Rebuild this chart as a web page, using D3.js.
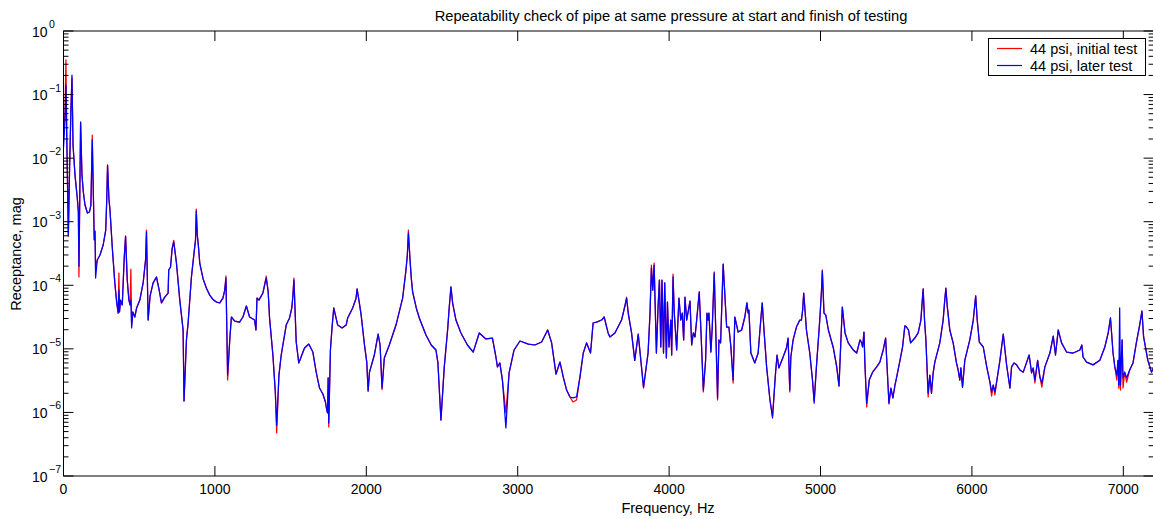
<!DOCTYPE html>
<html>
<head>
<meta charset="utf-8">
<script src="https://cdnjs.cloudflare.com/ajax/libs/d3/7.8.5/d3.min.js"></script>
<style>
  body { margin: 0; background: #fff; }
  svg { display: block; font-family: "Liberation Sans", Arial, Helvetica, sans-serif; }
</style>
</head>
<body>
<div id="container"></div>
<script>
// frequency points, Hz (shared by both tests)
var freq = [
    0, 10, 16, 23, 32, 40, 49, 56, 63, 76,
    91, 98, 102, 113, 122, 131, 142, 158, 171, 181,
    190, 198, 203, 208, 212, 223, 241, 262, 279, 285, 291, 300,
    307, 322, 339, 351, 361, 366, 370, 377, 388, 401,
    410, 421, 432, 440, 445, 450, 458, 471, 483, 504,
    526, 542, 548, 559, 572, 592, 614, 632, 647, 669,
    691, 695, 707, 717, 728, 746, 768, 790, 796, 812,
    823, 845, 862, 872, 877, 884, 890, 900, 922, 944, 966, 987,
    1010, 1032, 1053, 1065, 1073, 1084, 1098, 1109, 1131, 1163,
    1185, 1208, 1229, 1262, 1271, 1278, 1291, 1317, 1339, 1352, 1361,
    1383, 1399, 1408, 1423, 1438, 1471, 1493, 1508, 1515, 1522,
    1537, 1554, 1592, 1620, 1647, 1669, 1691, 1713, 1730, 1739,
    1744, 1748, 1752, 1763, 1775, 1785, 1811, 1840, 1867, 1877,
    1910, 1932, 1939, 1953, 1966, 1988, 2003, 2012, 2021, 2053, 2078, 2091,
    2104, 2119, 2152, 2196, 2240, 2262, 2271, 2278, 2288, 2297, 2306, 2330, 2350, 2394,
    2429, 2460, 2473, 2493, 2515, 2537, 2548, 2559, 2570, 2592, 2625, 2668,
    2706, 2746, 2790, 2833, 2856, 2866, 2882, 2899, 2922, 2943,
    2976, 3015, 3070, 3114, 3158, 3198, 3224, 3253, 3279, 3301,
    3323, 3345, 3365, 3389, 3411, 3433, 3455, 3481, 3498, 3521,
    3554, 3571, 3597, 3609, 3642, 3686, 3708, 3719, 3730, 3752, 3773, 3796,
    3831, 3861, 3874, 3883, 3892, 3901, 3916, 3927, 3936, 3945,
    3953, 3963, 3971, 3982, 3989, 3999, 4011, 4017, 4026, 4034,
    4050, 4065, 4077, 4087, 4096, 4105, 4116, 4138, 4149, 4160,
    4171, 4182, 4199, 4210, 4226, 4241, 4250, 4258, 4263, 4276,
    4285, 4298, 4320, 4329, 4340, 4357, 4380, 4395, 4408, 4423,
    4434, 4456, 4479, 4500, 4514, 4522, 4527, 4540, 4566, 4588, 4600,
    4615, 4628, 4644, 4666, 4683, 4703, 4713, 4725, 4753, 4775, 4786,
    4797, 4804, 4819, 4841, 4863, 4874, 4882, 4889, 4899, 4907, 4929, 4947,
    4958, 4973, 4995, 5006, 5012, 5023, 5035, 5052, 5085, 5107, 5122,
    5144, 5162, 5183, 5216, 5239, 5261, 5272, 5278, 5287, 5293,
    5305, 5322, 5344, 5371, 5392, 5414, 5430, 5452, 5465, 5478,
    5492, 5503, 5525, 5542, 5557, 5568, 5581, 5595, 5623, 5645,
    5663, 5671, 5678, 5687, 5696, 5711, 5722, 5733, 5744, 5755, 5788, 5810,
    5821, 5828, 5837, 5854, 5876, 5898, 5909, 5920, 5927, 5938, 5953, 5986,
    6009, 6018, 6025, 6035, 6049, 6075, 6098, 6119, 6130, 6141, 6152, 6163, 6185,
    6207, 6229, 6251, 6262, 6278, 6295, 6317, 6339, 6378, 6394,
    6405, 6416, 6434, 6449, 6462, 6482, 6515, 6537, 6552, 6570,
    6592, 6625, 6669, 6713, 6726, 6734, 6757, 6800, 6845, 6878, 6900,
    6915, 6924, 6932, 6944, 6957, 6965, 6970, 6976, 6981, 6992, 6998,
    7009, 7022, 7042, 7064, 7086, 7108, 7123, 7134, 7162, 7186,
    7200
];

// receptance magnitude, 44 psi initial test (red)
var initialTest = [
    2.07e-2, 5.7e-2, 3.5e-1, 1.34e-2, 5.9e-4, 6.5e-3, 5.7e-2, 1.82e-1, 1.6e-2, 5.4e-3,
    2.36e-3, 1.47e-3, 1.35e-4, 3.7e-2, 5.4e-3, 2.93e-3, 1.83e-3, 1.37e-3, 1.42e-3, 1.83e-3,
    2.31e-2, 2.2e-3, 5.2e-4, 7.1e-4, 1.94e-4, 2.5e-4, 3.0e-4, 4.3e-4, 7.4e-4, 2.0e-3, 7.8e-3, 2.3e-3,
    1.53e-3, 4.0e-4, 1.09e-4, 5.45e-5, 3.66e-5, 1.56e-4, 3.8e-5, 5.85e-5, 4.9e-5, 2.69e-4,
    5.96e-4, 1.21e-4, 5.85e-5, 4.9e-5, 1.8e-4, 2.35e-5, 3.8e-5, 3.17e-5, 4.4e-5, 5.85e-5,
    1.09e-4, 2.5e-4, 7.4e-4, 2.84e-5, 6.8e-5, 1.09e-4, 1.35e-4, 8.4e-5, 5.3e-5, 6.5e-5,
    7.55e-5, 1.74e-4, 1.94e-4, 3.7e-4, 5.1e-4, 2.24e-4, 5.85e-5, 1.98e-5, 1.51e-6, 1.38e-5,
    2.55e-5, 1.35e-4, 3.2e-4, 5.17e-4, 1.58e-3, 5.96e-4, 4.45e-4, 2.24e-4, 1.26e-4, 9.0e-5, 7.0e-5, 6.0e-5,
    5.45e-5, 5.3e-5, 6.3e-5, 8.4e-5, 1.4e-4, 3.23e-6, 1.38e-5, 3.17e-5, 2.74e-5, 2.64e-5,
    3.17e-5, 4.72e-5, 3.17e-5, 2.84e-5, 1.98e-5, 6.3e-5, 5.85e-5, 7.55e-5, 1.4e-4, 7.9e-5, 3.06e-5,
    8.0e-6, 2.1e-6, 4.75e-7, 3.87e-6, 8.0e-6, 2.37e-5, 3.06e-5, 4.4e-5, 6.8e-5, 1.3e-4,
    1.28e-5, 6.0e-6, 1.03e-5, 1.19e-5, 8.9e-6, 4.3e-6, 2.42e-6, 1.95e-6, 1.46e-6, 1.09e-6,
    9.8e-7, 3.5e-6, 5.9e-7, 9.6e-6, 2.37e-5, 4.4e-5, 2.37e-5, 2.13e-5, 2.37e-5, 3.06e-5,
    4.4e-5, 6.2e-5, 8.75e-5, 5.5e-5, 3.4e-5, 1.15e-5, 6.2e-6, 2.17e-6, 4.3e-6, 8.0e-6, 1.71e-5, 1.15e-5,
    2.3e-6, 7.2e-6, 1.15e-5, 2.37e-5, 6.3e-5, 1.74e-4, 3.0e-4, 7.4e-4, 2.69e-4, 1.3e-4, 7.85e-5, 4.4e-5, 3.06e-5, 1.65e-5,
    1.15e-5, 9.6e-6, 6.0e-6, 7.6e-7, 5.2e-6, 1.98e-5, 4.55e-5, 9.4e-5, 5.3e-5, 2.84e-5, 1.78e-5, 1.15e-5,
    8.9e-6, 1.78e-5, 1.43e-5, 1.48e-5, 7.45e-6, 5.2e-6, 6.0e-6, 3.23e-6, 9.8e-7, 4.2e-6,
    9.6e-6, 1.33e-5, 1.19e-5, 1.15e-5, 1.28e-5, 1.98e-5, 1.24e-5, 4.0e-6, 6.2e-6, 3.6e-6,
    2.25e-6, 1.75e-6, 1.46e-6, 1.57e-6, 3.6e-6, 8.6e-6, 1.24e-5, 8.6e-6, 2.55e-5, 2.64e-5,
    2.84e-5, 3.17e-5, 1.78e-5, 1.54e-5, 1.78e-5, 2.84e-5, 4.72e-5, 6.5e-5, 3.66e-5, 1.78e-5, 6.6e-6, 1.71e-5,
    2.42e-6, 8.6e-6, 3.66e-5, 2.08e-4, 8.4e-5, 2.24e-4, 8.6e-6, 4.55e-5, 1.21e-4, 1.07e-5,
    1.21e-4, 8.6e-6, 1.09e-4, 7.2e-6, 5.45e-5, 1.07e-5, 2.84e-5, 8.0e-6, 1.5e-4, 3.66e-5,
    9.6e-6, 6.3e-5, 2.84e-5, 3.66e-5, 1.38e-5, 6.5e-5, 2.84e-5, 5.65e-5, 1.15e-5, 1.78e-5,
    1.54e-5, 2.84e-5, 7.85e-5, 1.98e-5, 2.1e-6, 6.6e-6, 3.66e-5, 2.84e-5, 3.66e-5, 8.9e-6,
    2.2e-5, 1.62e-4, 1.57e-6, 1.38e-5, 1.24e-5, 2.16e-4, 2.2e-5, 2.2e-5, 1.07e-5, 2.9e-6,
    3.17e-5, 1.84e-5, 1.98e-5, 3.17e-5, 5.3e-5, 3.66e-5, 4.08e-5, 8.6e-6, 6.0e-6, 8.6e-6, 1.98e-5,
    5.3e-5, 1.78e-5, 5.2e-6, 1.57e-6, 8.8e-7, 4.2e-6, 8.0e-6, 5.0e-6, 7.45e-6, 1.03e-5, 1.48e-5,
    2.1e-6, 7.45e-6, 1.38e-5, 2.2e-5, 2.84e-5, 2.84e-5, 4.08e-5, 7.55e-5, 3.66e-5, 1.98e-5, 8.6e-6, 3.23e-6,
    1.51e-6, 5.2e-6, 2.84e-5, 7.85e-5, 1.74e-4, 3.66e-5, 3.4e-5, 1.98e-5, 1.03e-5, 5.2e-6, 2.6e-6,
    4.55e-5, 1.78e-5, 1.24e-5, 9.6e-6, 8.6e-6, 1.38e-5, 1.24e-5, 1.07e-5, 1.84e-5, 6.0e-6,
    1.22e-6, 3.23e-6, 4.3e-6, 5.2e-6, 6.2e-6, 9.6e-6, 1.48e-5, 1.36e-6, 2.42e-6, 1.69e-6,
    2.7e-6, 3.6e-6, 6.6e-6, 1.07e-5, 2.3e-5, 2.2e-5, 1.98e-5, 1.24e-5, 1.48e-5, 1.78e-5,
    2.84e-5, 5.3e-5, 8.75e-5, 2.84e-5, 1.38e-5, 1.75e-6, 3.87e-6, 2.0e-6, 4.2e-6, 6.2e-6, 1.24e-5, 2.84e-5,
    6.0e-5, 9.0e-5, 4.7e-5, 1.98e-5, 1.24e-5, 6.0e-6, 4.65e-6, 3.23e-6, 5.0e-6, 2.5e-6, 6.6e-6, 1.38e-5,
    2.84e-5, 4.7e-5, 6.8e-5, 2.84e-5, 1.28e-5, 1.07e-5, 5.2e-6, 3.0e-6, 1.81e-6, 2.7e-6, 1.88e-6, 3.0e-6, 6.6e-6,
    1.71e-5, 5.6e-6, 2.42e-6, 5.2e-6, 6.0e-6, 5.6e-6, 4.65e-6, 4.3e-6, 8.0e-6, 4.2e-6,
    5.0e-6, 2.9e-6, 6.6e-6, 3.6e-6, 2.5e-6, 5.2e-6, 8.6e-6, 1.59e-5, 8.0e-6, 1.98e-5,
    1.24e-5, 8.9e-6, 8.6e-6, 9.6e-6, 1.15e-5, 7.45e-6, 6.2e-6, 5.6e-6, 6.6e-6, 1.07e-5, 1.78e-5,
    3.06e-5, 1.59e-5, 8.6e-6, 5.2e-6, 3.23e-6, 6.6e-6, 2.42e-6, 9.0e-6, 2.25e-6, 1.38e-5, 2.42e-6,
    4.3e-6, 3.0e-6, 4.65e-6, 6.0e-6, 1.24e-5, 2.37e-5, 3.94e-5, 1.54e-5, 6.6e-6, 4.3e-6,
    5.0e-6
];

// receptance magnitude, 44 psi later test (blue)
var laterTest = [
    1.44e-2, 3.97e-2, 1.42e-1, 1.34e-2, 6.2e-4, 6.5e-3, 5.7e-2, 2.03e-1, 1.6e-2, 5.4e-3,
    2.36e-3, 1.47e-3, 2.0e-4, 3.7e-2, 5.4e-3, 2.93e-3, 1.83e-3, 1.37e-3, 1.42e-3, 1.83e-3,
    1.93e-2, 2.2e-3, 5.2e-4, 7.1e-4, 1.3e-4, 2.5e-4, 3.0e-4, 4.3e-4, 7.4e-4, 2.0e-3, 7.8e-3, 2.3e-3,
    1.53e-3, 4.0e-4, 1.09e-4, 5.45e-5, 3.66e-5, 8.4e-5, 3.8e-5, 5.85e-5, 4.9e-5, 2.69e-4,
    5.96e-4, 1.21e-4, 5.85e-5, 4.9e-5, 5.85e-5, 2.13e-5, 3.8e-5, 3.17e-5, 4.4e-5, 5.85e-5,
    1.09e-4, 2.5e-4, 6.9e-4, 2.84e-5, 6.8e-5, 1.09e-4, 1.35e-4, 8.4e-5, 5.3e-5, 6.5e-5,
    7.55e-5, 1.74e-4, 1.94e-4, 3.7e-4, 4.8e-4, 2.24e-4, 5.85e-5, 1.98e-5, 1.51e-6, 1.38e-5,
    2.55e-5, 1.35e-4, 3.2e-4, 5.17e-4, 1.47e-3, 5.96e-4, 4.45e-4, 2.24e-4, 1.26e-4, 9.0e-5, 7.0e-5, 6.0e-5,
    5.45e-5, 5.3e-5, 6.3e-5, 8.4e-5, 1.3e-4, 3.87e-6, 1.38e-5, 3.17e-5, 2.74e-5, 2.64e-5,
    3.17e-5, 4.72e-5, 3.17e-5, 2.84e-5, 1.98e-5, 6.3e-5, 5.85e-5, 7.55e-5, 1.3e-4, 7.9e-5, 3.06e-5,
    8.0e-6, 2.1e-6, 6.3e-7, 3.87e-6, 8.0e-6, 2.37e-5, 3.06e-5, 4.4e-5, 6.8e-5, 1.21e-4,
    1.28e-5, 6.0e-6, 1.03e-5, 1.19e-5, 8.9e-6, 4.3e-6, 2.42e-6, 1.95e-6, 1.46e-6, 1.09e-6,
    9.8e-7, 3.5e-6, 6.8e-7, 9.6e-6, 2.37e-5, 4.4e-5, 2.37e-5, 2.13e-5, 2.37e-5, 3.06e-5,
    4.4e-5, 6.2e-5, 8.75e-5, 5.5e-5, 3.4e-5, 1.15e-5, 6.2e-6, 2.17e-6, 4.3e-6, 8.0e-6, 1.71e-5, 1.15e-5,
    2.42e-6, 7.2e-6, 1.15e-5, 2.37e-5, 6.3e-5, 1.74e-4, 3.0e-4, 6.6e-4, 2.69e-4, 1.3e-4, 7.85e-5, 4.4e-5, 3.06e-5, 1.65e-5,
    1.15e-5, 9.6e-6, 6.0e-6, 7.6e-7, 5.2e-6, 1.98e-5, 4.55e-5, 9.4e-5, 5.3e-5, 2.84e-5, 1.78e-5, 1.15e-5,
    8.9e-6, 1.78e-5, 1.43e-5, 1.48e-5, 7.45e-6, 5.2e-6, 6.0e-6, 3.23e-6, 5.7e-7, 4.2e-6,
    9.6e-6, 1.33e-5, 1.19e-5, 1.15e-5, 1.28e-5, 1.98e-5, 1.24e-5, 4.0e-6, 6.2e-6, 3.6e-6,
    2.25e-6, 1.75e-6, 1.69e-6, 1.75e-6, 3.6e-6, 8.6e-6, 1.24e-5, 8.6e-6, 2.55e-5, 2.64e-5,
    2.84e-5, 3.17e-5, 1.78e-5, 1.54e-5, 1.78e-5, 2.84e-5, 4.72e-5, 6.3e-5, 3.66e-5, 1.78e-5, 6.6e-6, 1.71e-5,
    2.5e-6, 8.6e-6, 3.66e-5, 1.87e-4, 8.4e-5, 2.08e-4, 8.6e-6, 4.55e-5, 1.21e-4, 1.07e-5,
    1.21e-4, 8.6e-6, 1.09e-4, 7.2e-6, 5.45e-5, 1.07e-5, 2.84e-5, 8.0e-6, 1.35e-4, 3.66e-5,
    9.6e-6, 6.3e-5, 2.84e-5, 3.66e-5, 1.38e-5, 6.5e-5, 2.84e-5, 5.65e-5, 1.15e-5, 1.78e-5,
    1.54e-5, 2.84e-5, 7.85e-5, 1.98e-5, 2.25e-6, 6.6e-6, 3.66e-5, 2.84e-5, 3.66e-5, 8.9e-6,
    2.2e-5, 1.56e-4, 1.69e-6, 1.38e-5, 1.24e-5, 2.16e-4, 2.2e-5, 2.2e-5, 1.07e-5, 3.23e-6,
    3.17e-5, 1.84e-5, 1.98e-5, 3.17e-5, 5.3e-5, 3.66e-5, 4.08e-5, 8.6e-6, 6.0e-6, 8.6e-6, 1.98e-5,
    5.3e-5, 1.78e-5, 5.2e-6, 1.57e-6, 8.2e-7, 4.2e-6, 8.0e-6, 5.0e-6, 7.45e-6, 1.03e-5, 1.48e-5,
    2.25e-6, 7.45e-6, 1.38e-5, 2.2e-5, 2.84e-5, 2.84e-5, 4.08e-5, 7.55e-5, 3.66e-5, 1.98e-5, 8.6e-6, 3.23e-6,
    1.4e-6, 5.2e-6, 2.84e-5, 7.85e-5, 1.68e-4, 3.66e-5, 3.4e-5, 1.98e-5, 1.03e-5, 5.2e-6, 2.6e-6,
    4.55e-5, 1.78e-5, 1.24e-5, 9.6e-6, 8.6e-6, 1.38e-5, 1.24e-5, 1.07e-5, 1.84e-5, 6.0e-6,
    1.4e-6, 3.23e-6, 4.3e-6, 5.2e-6, 6.2e-6, 9.6e-6, 1.48e-5, 1.4e-6, 2.42e-6, 1.69e-6,
    2.7e-6, 3.6e-6, 6.6e-6, 1.07e-5, 2.3e-5, 2.2e-5, 1.98e-5, 1.24e-5, 1.48e-5, 1.78e-5,
    2.84e-5, 5.3e-5, 8.75e-5, 2.84e-5, 1.38e-5, 2.0e-6, 3.87e-6, 2.0e-6, 4.2e-6, 6.2e-6, 1.24e-5, 2.84e-5,
    6.0e-5, 9.0e-5, 4.7e-5, 1.98e-5, 1.24e-5, 6.0e-6, 4.65e-6, 3.23e-6, 5.0e-6, 2.5e-6, 6.6e-6, 1.38e-5,
    2.84e-5, 4.7e-5, 6.8e-5, 2.84e-5, 1.28e-5, 1.07e-5, 5.2e-6, 3.0e-6, 2.1e-6, 2.7e-6, 2.1e-6, 3.0e-6, 6.6e-6,
    1.71e-5, 5.6e-6, 2.42e-6, 5.2e-6, 6.0e-6, 5.6e-6, 4.65e-6, 4.3e-6, 8.0e-6, 4.2e-6,
    5.0e-6, 3.23e-6, 6.6e-6, 3.6e-6, 2.9e-6, 5.2e-6, 8.6e-6, 1.59e-5, 8.0e-6, 1.98e-5,
    1.24e-5, 8.9e-6, 8.6e-6, 9.6e-6, 1.15e-5, 7.45e-6, 6.2e-6, 5.6e-6, 6.6e-6, 1.07e-5, 1.78e-5,
    3.06e-5, 1.59e-5, 8.6e-6, 5.2e-6, 3.87e-6, 6.6e-6, 2.7e-6, 4.4e-5, 2.7e-6, 1.38e-5, 3.5e-6,
    4.3e-6, 3.5e-6, 4.65e-6, 6.0e-6, 1.24e-5, 2.37e-5, 3.94e-5, 1.54e-5, 6.6e-6, 4.3e-6,
    5.0e-6
];

var xTicks = [0, 1000, 2000, 3000, 4000, 5000, 6000, 7000];
var yExponents = [0, -1, -2, -3, -4, -5, -6, -7];
var seriesNames = ['44 psi, initial test', '44 psi, later test'];
var seriesColors = ['#ff0000', '#0000ff'];

var width = 1153,
    height = 519;
// plot box (the right edge sits on the picture border)
var plotLeft = 63.5, plotRight = 1153.6, plotTop = 31, plotBottom = 476;

var x = d3.scaleLinear().domain([0, 7200]).range([plotLeft, plotRight]);
var y = d3.scaleLog().domain([1e-7, 1]).range([plotBottom, plotTop]);

var svg = d3.select('#container').append('svg')
    .attr('width', width)
    .attr('height', height);

svg.append('rect').attr('width', width).attr('height', height).attr('fill', '#fff');

svg.append('clipPath').attr('id', 'plot-clip')
    .append('rect')
    .attr('x', plotLeft).attr('y', plotTop)
    .attr('width', plotRight - plotLeft).attr('height', plotBottom - plotTop);

// curves: red first, blue drawn on top
var line = d3.line()
    .x(function (d, i) { return x(freq[i]); })
    .y(function (d) { return y(d); });

var plot = svg.append('g').attr('clip-path', 'url(#plot-clip)');
[initialTest, laterTest].forEach(function (series, k) {
    plot.append('path')
        .datum(series)
        .attr('fill', 'none')
        .attr('stroke', seriesColors[k])
        .attr('stroke-width', 1.25)
        .attr('stroke-linejoin', 'round')
        .attr('d', line);
});

// axes box with inward MATLAB-style ticks
var axes = svg.append('g').attr('stroke', '#000').attr('stroke-width', 1);

axes.append('rect')
    .attr('x', plotLeft).attr('y', plotTop)
    .attr('width', plotRight - plotLeft).attr('height', plotBottom - plotTop)
    .attr('fill', 'none');

xTicks.forEach(function (t) {
    axes.append('line').attr('x1', x(t)).attr('x2', x(t)).attr('y1', plotBottom).attr('y2', plotBottom - 10);
    axes.append('line').attr('x1', x(t)).attr('x2', x(t)).attr('y1', plotTop).attr('y2', plotTop + 10);
});

yExponents.forEach(function (e) {
    var v = Math.pow(10, e);
    axes.append('line').attr('x1', plotLeft).attr('x2', plotLeft + 10).attr('y1', y(v)).attr('y2', y(v));
    axes.append('line').attr('x1', plotRight).attr('x2', plotRight - 10).attr('y1', y(v)).attr('y2', y(v));
    if (e === -7) return;
    for (var m = 2; m <= 9; m++) {
        var mv = m * Math.pow(10, e - 1);
        axes.append('line').attr('x1', plotLeft).attr('x2', plotLeft + 5).attr('y1', y(mv)).attr('y2', y(mv));
        axes.append('line').attr('x1', plotRight).attr('x2', plotRight - 5).attr('y1', y(mv)).attr('y2', y(mv));
    }
});

// tick labels
svg.selectAll('.xlabel').data(xTicks).enter().append('text')
    .attr('class', 'xlabel')
    .attr('x', function (d) { return x(d); })
    .attr('y', plotBottom + 18)
    .attr('text-anchor', 'middle')
    .attr('font-size', 14)
    .text(function (d) { return d; });

var ylab = svg.selectAll('.ylabel').data(yExponents).enter().append('text')
    .attr('class', 'ylabel')
    .attr('x', 32)
    .attr('y', function (d) { return y(Math.pow(10, d)) + 5.5; })
    .attr('font-size', 14);
ylab.append('tspan').text('10');
ylab.append('tspan')
    .attr('dx', 1.5)
    .attr('dy', -8.5)
    .attr('font-size', 10.5)
    .text(function (d) { return d === 0 ? '0' : '\u2212' + (-d); });

// titles
svg.append('text')
    .attr('x', 671).attr('y', 20.5)
    .attr('text-anchor', 'middle')
    .attr('font-size', 14.7)
    .text('Repeatability check of pipe at same pressure at start and finish of testing');

svg.append('text')
    .attr('x', 668).attr('y', 513)
    .attr('text-anchor', 'middle')
    .attr('font-size', 14.5)
    .text('Frequency, Hz');

svg.append('text')
    .attr('transform', 'translate(21,254) rotate(-90)')
    .attr('text-anchor', 'middle')
    .attr('font-size', 14.5)
    .text('Receptance, mag');

// legend
var legend = svg.append('g');
legend.append('rect')
    .attr('x', 988.5).attr('y', 38.5)
    .attr('width', 157).attr('height', 37)
    .attr('fill', '#fff').attr('stroke', '#000').attr('stroke-width', 1);

seriesNames.forEach(function (name, k) {
    var ly = 48.5 + k * 17;
    legend.append('line')
        .attr('x1', 997).attr('x2', 1022)
        .attr('y1', ly).attr('y2', ly)
        .attr('stroke', seriesColors[k]).attr('stroke-width', 1.2);
    legend.append('text')
        .attr('x', 1030).attr('y', ly + 5)
        .attr('font-size', 14.5)
        .text(name);
});
</script>
</body>
</html>
